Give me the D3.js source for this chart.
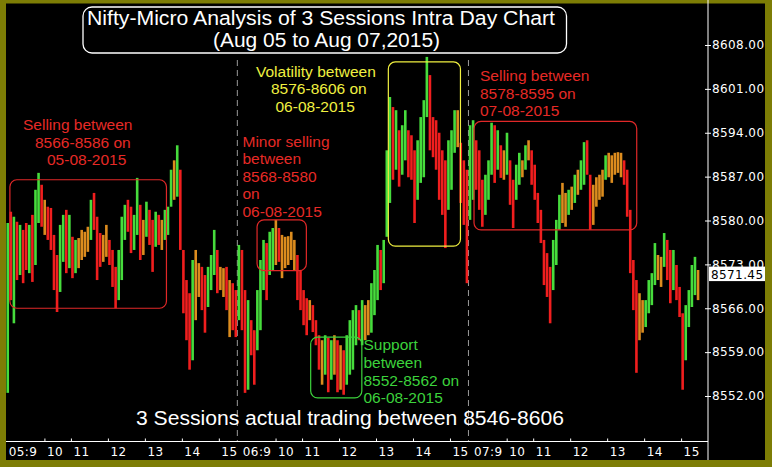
<!DOCTYPE html>
<html>
<head>
<meta charset="utf-8">
<title>Nifty-Micro Analysis of 3 Sessions Intra Day Chart</title>
<script src="https://d3js.org/d3.v7.min.js"></script>
<style>
    html, body { margin: 0; padding: 0; background: #000; }
    svg { display: block; }
</style>
</head>
<body>
<script>
(function(window){
    'use strict'

    // session days and 5 minute bars (9:15 - 15:30 each)
    var sessionDays = ['05', '06', '07'];
    var sessionMinutes = 375;
    var barMinutes = 5;

    var s1High = [8579.6,8581.4,8580.6,8579.8,8579.3,8578.5,8579.6,8579.3,8580.9,8584.9,
        8587.6,8585.7,8583.3,8582.2,8582.0,8577.7,8574.5,8579.3,8580.9,8581.7,
        8580.9,8577.4,8576.9,8577.2,8578.5,8578.2,8579.0,8583.3,8584.4,8580.6,
        8578.0,8577.7,8579.3,8576.9,8575.3,8572.6,8575.3,8580.6,8582.5,8583.3,
        8582.2,8580.9,8586.8,8582.5,8580.1,8583.0,8581.7,8580.1,8581.4,8580.9,
        8580.1,8581.7,8582.2,8588.1,8589.6,8592.0,8588.1,8575.3,8570.5,8568.4,
        8573.7,8575.3,8573.2,8572.6,8571.3,8572.6,8574.5,8578.5,8575.3,8572.6,
        8572.4,8572.6,8570.5,8570.0,8568.9];
    var s1Low = [8552.5,8567.3,8563.6,8570.5,8571.3,8570.0,8572.1,8571.6,8570.2,8572.9,
        8579.6,8579.0,8577.7,8576.9,8575.3,8568.9,8565.4,8568.6,8573.4,8571.6,
        8572.4,8570.8,8571.6,8572.4,8573.7,8574.2,8575.0,8576.9,8578.5,8570.5,
        8572.6,8573.4,8574.2,8572.9,8569.4,8566.0,8567.3,8570.5,8576.9,8578.2,
        8574.8,8575.3,8577.7,8573.7,8574.5,8577.4,8576.1,8571.8,8575.8,8576.1,
        8575.3,8576.9,8577.7,8582.2,8583.3,8583.8,8575.3,8565.2,8560.9,8556.2,
        8557.7,8564.1,8567.8,8565.7,8562.1,8566.2,8568.9,8571.3,8568.4,8568.9,
        8567.8,8565.7,8561.4,8562.5,8561.4];
    var s1Close = [8576.9,8570.5,8575.3,8572.1,8576.9,8575.3,8573.7,8576.1,8572.9,8583.3,
        8584.9,8580.9,8581.7,8578.5,8576.9,8570.5,8568.9,8576.9,8578.5,8573.7,
        8575.3,8572.9,8575.3,8576.1,8576.9,8576.6,8577.7,8581.7,8580.1,8576.9,
        8575.3,8576.1,8576.9,8574.5,8571.3,8568.1,8573.7,8578.5,8580.9,8579.3,
        8576.9,8579.3,8583.3,8576.9,8577.7,8580.9,8578.5,8574.5,8579.3,8577.7,
        8578.5,8580.1,8581.7,8586.5,8587.3,8588.9,8576.9,8567.3,8564.1,8559.3,
        8570.5,8571.3,8570.5,8568.9,8567.3,8569.7,8572.1,8576.1,8572.1,8571.3,
        8570.5,8568.1,8567.3,8565.7,8564.1];

    var s2High = [8576.1,8575.3,8568.9,8567.3,8564.1,8562.5,8568.9,8573.7,8576.9,8576.4,
        8578.2,8578.8,8580.1,8578.8,8577.7,8577.4,8577.5,8578.2,8576.9,8574.5,
        8572.1,8568.9,8567.6,8567.3,8566.5,8564.1,8561.7,8560.9,8561.7,8561.3,
        8560.9,8561.7,8560.9,8560.1,8559.3,8561.7,8564.1,8565.7,8566.5,8565.7,
        8567.3,8566.5,8567.3,8570.0,8572.1,8576.1,8575.3,8576.9,8591.2,8599.7,
        8598.1,8597.6,8594.4,8595.2,8597.6,8594.4,8593.6,8591.2,8592.8,8596.5,
        8599.2,8606.1,8603.2,8596.5,8596.0,8594.0,8591.2,8589.6,8592.8,8594.4,
        8597.6,8597.6,8592.4,8589.6,8588.1];
    var s2Low = [8564.1,8562.5,8552.5,8553.0,8558.5,8553.8,8559.3,8562.5,8568.9,8567.3,
        8571.3,8572.1,8572.9,8573.4,8570.8,8572.4,8572.9,8573.7,8572.1,8567.3,
        8565.7,8563.3,8561.7,8564.1,8562.2,8560.1,8556.2,8553.8,8555.4,8552.6,
        8554.6,8555.4,8552.6,8553.0,8552.2,8553.8,8555.4,8556.2,8560.1,8560.9,
        8560.1,8560.9,8561.7,8562.1,8564.9,8567.3,8568.9,8570.0,8577.4,8582.8,
        8586.5,8588.1,8585.4,8587.3,8589.6,8586.9,8586.5,8579.6,8583.3,8586.0,
        8586.9,8596.5,8591.2,8590.1,8588.1,8583.3,8580.9,8575.6,8581.7,8584.9,
        8590.8,8591.7,8582.8,8579.3,8570.0];
    var s2Close = [8567.3,8564.1,8556.2,8562.5,8560.9,8557.7,8565.7,8570.5,8573.7,8572.1,
        8575.3,8576.9,8577.7,8575.3,8574.5,8575.3,8576.1,8575.3,8574.5,8569.7,
        8568.1,8566.5,8564.9,8565.7,8563.3,8560.9,8558.5,8557.7,8559.3,8556.2,
        8558.5,8557.7,8555.4,8556.2,8554.6,8559.3,8560.9,8562.5,8564.1,8562.5,
        8564.1,8564.9,8565.7,8568.1,8569.7,8574.5,8572.9,8575.3,8588.9,8594.4,
        8592.8,8594.4,8589.6,8591.2,8593.6,8591.2,8589.6,8584.9,8589.6,8592.8,
        8596.0,8602.4,8597.6,8593.6,8591.2,8587.3,8584.9,8583.3,8588.1,8591.2,
        8594.4,8595.2,8588.1,8584.9,8578.5];

    var s3High = [8595.2,8596.0,8592.8,8591.2,8586.5,8587.3,8589.6,8595.6,8595.2,8594.4,
        8592.0,8591.2,8594.0,8589.6,8586.5,8588.9,8590.8,8589.6,8592.0,8592.8,
        8591.2,8588.9,8584.4,8581.7,8576.9,8574.8,8572.6,8576.9,8580.1,8584.1,
        8586.0,8584.4,8584.9,8585.4,8587.3,8588.1,8589.6,8592.5,8592.8,8587.3,
        8585.7,8586.9,8587.3,8588.1,8590.4,8590.8,8590.4,8590.8,8590.9,8590.8,
        8589.6,8588.1,8581.7,8573.7,8570.5,8568.4,8567.3,8567.3,8570.5,8571.6,
        8576.4,8574.5,8574.2,8578.0,8576.9,8575.3,8575.3,8572.9,8569.4,8565.2,
        8566.5,8568.9,8572.9,8574.2,8572.1];
    var s3Low = [8580.1,8583.3,8584.9,8581.7,8579.0,8580.9,8583.3,8587.3,8586.0,8588.1,
        8586.8,8586.5,8587.3,8582.5,8578.8,8583.3,8585.7,8586.9,8588.1,8589.6,
        8585.7,8583.3,8579.6,8576.4,8569.7,8567.8,8563.6,8568.9,8572.9,8578.5,
        8579.6,8579.0,8580.9,8581.7,8582.8,8584.1,8584.9,8585.7,8587.3,8578.5,
        8579.3,8582.2,8583.3,8583.8,8586.5,8586.9,8586.0,8587.3,8587.6,8586.9,
        8585.7,8580.6,8571.6,8565.7,8555.7,8560.9,8562.1,8563.0,8565.2,8566.5,
        8569.7,8570.5,8569.4,8572.6,8570.5,8566.8,8568.9,8567.3,8564.6,8553.0,
        8557.7,8563.0,8566.2,8568.1,8567.3];
    var s3Close = [8583.3,8592.8,8588.1,8584.1,8581.7,8585.7,8588.1,8592.8,8589.6,8591.2,
        8588.9,8589.6,8591.2,8584.9,8583.3,8587.3,8588.9,8588.4,8591.2,8591.2,
        8588.1,8584.9,8580.9,8577.7,8572.1,8570.5,8568.9,8574.5,8578.5,8581.7,
        8582.5,8581.7,8583.3,8584.1,8585.7,8586.5,8588.1,8589.6,8588.1,8583.3,
        8584.1,8584.9,8585.7,8586.8,8588.9,8589.6,8588.9,8589.3,8589.6,8589.3,
        8587.3,8582.5,8574.5,8568.9,8564.1,8564.9,8564.1,8565.7,8568.1,8569.7,
        8573.7,8572.9,8572.1,8576.1,8572.9,8570.5,8572.1,8568.9,8566.5,8559.3,
        8564.1,8566.5,8570.5,8572.1,8571.45];

    var yTicks = [8552, 8559, 8566, 8573, 8580, 8587, 8594, 8601, 8608];
    var hourLabels = ['10', '11', '12', '13', '14', '15'];
    var hourMinutes = [62, 105, 165, 225, 285, 345];   // minutes after 9:15
    var lastPrice = 8571.45;

    // annotation ranges: [start minute, end minute, low price, high price]
    var boxRanges = [
        [6, 260, 8566, 8586.5],
        [407, 487, 8572, 8580.1],
        [620, 737, 8575.9, 8605.3],
        [759, 1023, 8578.5, 8595.8],
        [494, 577, 8551.7, 8561.4]
    ];
    var boxColors = ['#e02828', '#e02828', '#f0f040', '#e02828', '#3cd23c'];

    var notes = [
        { color: '#e62a26', lines: [['Selling between', 23, 130], ['8566-8586 on', 35, 147.5], ['05-08-2015', 47, 165]] },
        { color: '#e62a26', lines: [['Minor selling', 242.5, 146.5], ['between', 242.5, 164], ['8568-8580', 242.5, 181.5], ['on', 242.5, 199], ['06-08-2015', 242.5, 216.5]] },
        { color: '#f0f040', lines: [['Volatility between', 256, 76.5], ['8576-8606 on', 271, 94], ['06-08-2015', 275.5, 111.5]] },
        { color: '#e62a26', lines: [['Selling between', 480, 81], ['8578-8595 on', 480, 98.5], ['07-08-2015', 480, 116]] },
        { color: '#3cd23c', lines: [['Support', 363.5, 350], ['between', 363.5, 367.5], ['8552-8562 on', 363.5, 385.5], ['06-08-2015', 363.5, 402.5]] }
    ];

    var W = 772, H = 467;
    var highs = [s1High, s2High, s3High],
        lows = [s1Low, s2Low, s3Low],
        closes = [s1Close, s2Close, s3Close];

    var x = d3.scaleLinear().domain([0, sessionMinutes * 3]).range([6.2, 699.6]);
    var y = d3.scaleLinear().domain([8552, 8608]).range([396, 45]);

    var svg = d3.select('body').append('svg')
        .attr('width', W)
        .attr('height', H);

    // olive frame and black plot
    svg.append('rect').attr('width', W).attr('height', H).attr('fill', '#7d7d05');
    svg.append('rect').attr('x', 6).attr('y', 3.5).attr('width', 759).attr('height', 456.5).attr('fill', '#000');

    function sansText(g, str, px, py, size, color) {
        return g.append('text')
            .attr('x', px)
            .attr('y', py)
            .attr('fill', color)
            .attr('font-family', "Arial, 'Liberation Sans', sans-serif")
            .attr('font-size', size)
            .text(str);
    }

    // bars
    var bars = [], prev = null;
    for(var s = 0; s < 3; s++) {
        for(var i = 0; i < highs[s].length; i++) {
            var op = prev === null ? lows[s][i] : prev;
            bars.push({ t: s * sessionMinutes + i * barMinutes + barMinutes / 2,
                hi: highs[s][i], lo: lows[s][i], op: op, cl: closes[s][i] });
            prev = closes[s][i];
        }
    }

    function barColor(d) {
        var diff = d.cl - d.op;
        if(diff > 1.2) return '#46dc3c';
        if(diff < -1.2) return '#f01e1e';
        return '#dc8c1e';
    }

    // session separators
    svg.selectAll('line.sep').data([1, 2]).enter().append('line')
        .attr('class', 'sep')
        .attr('x1', function(d){ return x(d * sessionMinutes); })
        .attr('x2', function(d){ return x(d * sessionMinutes); })
        .attr('y1', 60)
        .attr('y2', 441.5)
        .attr('stroke', '#9a9a9a')
        .attr('stroke-width', 1)
        .attr('stroke-dasharray', '6,4');

    svg.append('g').selectAll('line').data(bars).enter().append('line')
        .attr('x1', function(d){ return x(d.t); })
        .attr('x2', function(d){ return x(d.t); })
        .attr('y1', function(d){ return y(d.hi); })
        .attr('y2', function(d){ return y(d.lo); })
        .attr('stroke', barColor)
        .attr('stroke-width', 2.6);

    // annotation boxes
    svg.append('g').selectAll('rect').data(boxRanges).enter().append('rect')
        .attr('x', function(d){ return x(d[0]); })
        .attr('y', function(d){ return y(d[3]); })
        .attr('width', function(d){ return x(d[1]) - x(d[0]); })
        .attr('height', function(d){ return y(d[2]) - y(d[3]); })
        .attr('rx', 7)
        .attr('fill', 'none')
        .attr('stroke', function(d, k){ return boxColors[k]; })
        .attr('stroke-width', 1.2);

    var noteLayer = svg.append('g');
    notes.forEach(function(n) {
        n.lines.forEach(function(l) {
            sansText(noteLayer, l[0], l[1], l[2], 15.5, n.color);
        });
    });

    // title box
    svg.append('rect')
        .attr('x', 83).attr('y', 7)
        .attr('width', 483.5).attr('height', 46)
        .attr('rx', 9)
        .attr('fill', 'none')
        .attr('stroke', '#fff')
        .attr('stroke-width', 1.3);
    sansText(svg, 'Nifty-Micro Analysis of 3 Sessions Intra Day Chart', 87, 24.5, 20, '#fff')
        .attr('textLength', 468).attr('lengthAdjust', 'spacingAndGlyphs');
    sansText(svg, '(Aug 05 to Aug 07,2015)', 213, 47, 20, '#fff')
        .attr('textLength', 227).attr('lengthAdjust', 'spacingAndGlyphs');

    sansText(svg, '3 Sessions actual trading between 8546-8606', 136, 424.5, 19.5, '#fff')
        .attr('textLength', 428).attr('lengthAdjust', 'spacingAndGlyphs');

    // y axis on the right
    var yAxis = d3.axisRight(y)
        .tickValues(yTicks)
        .tickFormat(d3.format('.2f'))
        .tickSize(3)
        .tickPadding(1);

    var gy = svg.append('g')
        .attr('transform', 'translate(708,0)')
        .call(yAxis);
    gy.select('.domain').remove();
    gy.selectAll('.tick line').attr('x1', -3).attr('stroke', '#fff');
    gy.selectAll('.tick text')
        .attr('fill', '#fff')
        .attr('font-family', "'DejaVu Sans', sans-serif")
        .attr('font-size', 12)
        .attr('letter-spacing', 0.4);

    svg.append('line')
        .attr('x1', 708).attr('x2', 708)
        .attr('y1', 0).attr('y2', 460)
        .attr('stroke', '#fff');

    // last price marker
    svg.append('rect')
        .attr('x', 709).attr('y', y(lastPrice) - 7.5)
        .attr('width', 56).attr('height', 14.5)
        .attr('fill', '#fff');
    svg.append('text')
        .attr('x', 711).attr('y', y(lastPrice) + 4.5)
        .attr('fill', '#000')
        .attr('font-family', "'DejaVu Sans', sans-serif")
        .attr('font-size', 12)
        .attr('letter-spacing', 0.4)
        .text(d3.format('.2f')(lastPrice));

    // time axis
    var xTicks = [], xLabels = {};
    sessionDays.forEach(function(day, s) {
        xTicks.push(s * sessionMinutes);
        xLabels[s * sessionMinutes] = day + ':9';
        hourMinutes.forEach(function(m, k) {
            xTicks.push(s * sessionMinutes + m);
            xLabels[s * sessionMinutes + m] = hourLabels[k];
        });
    });

    var xAxis = d3.axisBottom(x)
        .tickValues(xTicks)
        .tickFormat(function(d){ return xLabels[d]; })
        .tickSize(-3)
        .tickPadding(6);

    var gx = svg.append('g')
        .attr('transform', 'translate(0,441.5)')
        .call(xAxis);
    gx.select('.domain').remove();
    gx.selectAll('.tick line')
        .attr('stroke', '#fff')
        .attr('y2', function(d){ return d % sessionMinutes === 0 ? 0 : -3; });
    gx.selectAll('.tick text')
        .attr('fill', '#fff')
        .attr('text-anchor', 'start')
        .attr('x', function(d){ return d === 0 ? 2 : (d % sessionMinutes === 0 ? 5 : 2); })
        .attr('dy', '0.71em')
        .attr('font-family', "'DejaVu Sans', sans-serif")
        .attr('font-size', 12)
        .attr('letter-spacing', 0.4);

    svg.append('line')
        .attr('x1', 6).attr('x2', 708)
        .attr('y1', 441.5).attr('y2', 441.5)
        .attr('stroke', '#fff');

})(window);
</script>
</body>
</html>
